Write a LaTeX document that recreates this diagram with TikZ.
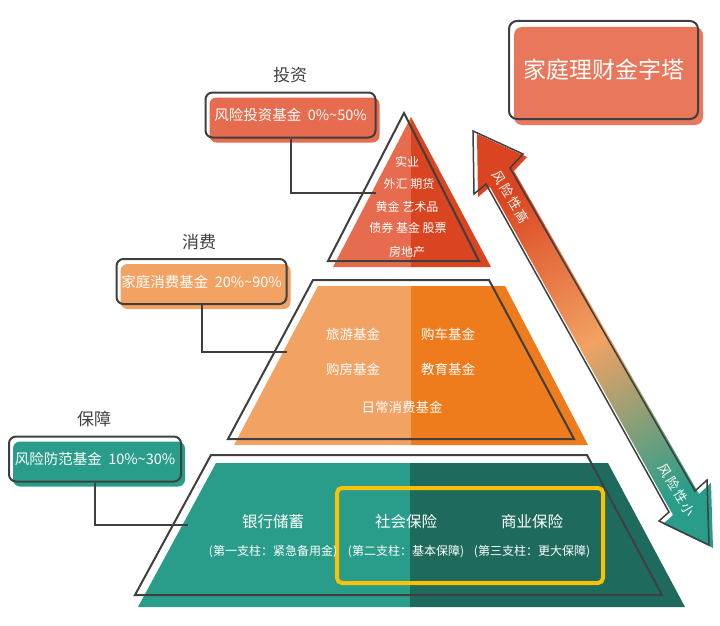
\documentclass[tikz,border=0pt]{standalone}
\usepackage{fontspec}
\setmainfont{Noto Sans CJK SC}
\usetikzlibrary{shadows}
\definecolor{redL}{HTML}{E76C4F}
\definecolor{redD}{HTML}{DA4420}
\definecolor{orL}{HTML}{F2A263}
\definecolor{orD}{HTML}{EE7B1C}
\definecolor{tealL}{HTML}{2A9D8A}
\definecolor{tealD}{HTML}{1E6B5E}
\definecolor{titlec}{HTML}{E8775B}
\definecolor{linec}{HTML}{3F3F3F}
\definecolor{labelc}{HTML}{404040}
\definecolor{goldc}{HTML}{FFC000}
\tikzset{
  edge/.style={draw=linec, line width=2pt},
  fundbox/.style={draw=linec, line width=2pt, rounded corners=7pt, inner sep=0pt,
    minimum width=170pt, minimum height=45pt, text=white,
    font=\fontsize{14.5pt}{17pt}\selectfont,
    drop shadow={shadow xshift=4pt, shadow yshift=-5pt, fill=#1, opacity=1}},
  levellabel/.style={text=labelc, font=\fontsize{17pt}{20pt}\selectfont},
  toptext/.style={text=white, font=\fontsize{12pt}{14pt}\selectfont},
  midtext/.style={text=white, font=\fontsize{13.5pt}{16pt}\selectfont},
  bigtext/.style={text=white, font=\fontsize{15.5pt}{18pt}\selectfont},
  subtext/.style={text=white, font=\fontsize{12pt}{14pt}\selectfont},
  risktext/.style={text=white, rotate=-59,
    font=\fontsize{13pt}{15pt}\selectfont\addfontfeature{LetterSpace=15}}
}
\begin{document}
\begin{tikzpicture}[x=1pt,y=-1pt]
  \useasboundingbox (0,0) rectangle (720,626);

  \fill[redL] (411,117) -- (333,267) -- (411,267) -- cycle;
  \fill[redD] (411,117) -- (491,267) -- (411,267) -- cycle;
  \draw[edge] (404,113) -- (328,261) -- (479,261) -- cycle;

  \fill[orL] (318,286) -- (411,286) -- (411,445) -- (234,445) -- cycle;
  \fill[orD] (411,286) -- (505,286) -- (588,445) -- (411,445) -- cycle;
  \draw[edge] (313,280) -- (489,280) -- (574,439) -- (228,439) -- cycle;

  \fill[tealL] (216,463) -- (410,463) -- (410,607) -- (138,607) -- cycle;
  \fill[tealD] (410,463) -- (608,463) -- (685,607) -- (410,607) -- cycle;
  \draw[edge] (211,455) -- (587,455) -- (662,595) -- (135,595) -- cycle;
  \draw[goldc, line width=4pt, rounded corners=5pt] (337,488) rectangle (603,583);

  \shade[top color=redD, bottom color=tealL, middle color=orL, shading angle=30]
    (477,134) -- (527,157) -- (514,171) -- (699,494) -- (711,483) -- (713,548)
    -- (663,524) -- (673,515) -- (490,187) -- (478,197) -- cycle;
  \draw[draw=linec, line width=1.5pt]
    (473,131) -- (523,154) -- (510,168) -- (695,491) -- (707,480) -- (709,545)
    -- (659,521) -- (669,512) -- (486,184) -- (474,194) -- cycle;
  \node[risktext] (high) at (511,197) {风险性高};
  \node[risktext] (low) at (677,490) {风险性小};

  \node[draw=linec, line width=2pt, rounded corners=8pt, minimum width=189pt,
    minimum height=98pt, text=white, font=\fontsize{23pt}{26pt}\selectfont,
    drop shadow={shadow xshift=5pt, shadow yshift=-6pt, fill=titlec, opacity=1}]
    (title) at (603.5,70) {家庭理财金字塔};

  \node[levellabel] (invlabel) at (290,75) {投资};
  \node[fundbox=redL] (invbox) at (290.5,115) {风险投资基金\ \ 0\%\textasciitilde50\%};
  \node[levellabel] (uselabel) at (199,242) {消费};
  \node[fundbox=orL] (usebox) at (201.5,281.5) {家庭消费基金\ \ 20\%\textasciitilde90\%};
  \node[levellabel] (savlabel) at (94,419) {保障};
  \node[fundbox=tealL, minimum width=172pt] (savbox) at (95,459) {风险防范基金\ \ 10\%\textasciitilde30\%};

  \coordinate (invend) at (376,193);
  \coordinate (useend) at (287,352);
  \coordinate (savend) at (188,525);
  \draw[edge] (invbox.south) |- (invend);
  \draw[edge] (usebox.south) |- (useend);
  \draw[edge] (savbox.south) |- (savend);

  \node[toptext] (inv1) at (407,162) {实业};
  \node[toptext] (inv2) at (409,184) {外汇 期货};
  \node[toptext] (inv3) at (407,207) {黄金 艺术品};
  \node[toptext] (inv4) at (408,228) {债券 基金 股票};
  \node[toptext] (inv5) at (407,252) {房地产};

  \node[midtext] (use1) at (353,334) {旅游基金};
  \node[midtext] (use2) at (448,334) {购车基金};
  \node[midtext] (use3) at (353,369) {购房基金};
  \node[midtext] (use4) at (448,369) {教育基金};
  \node[midtext] (use5) at (402,407) {日常消费基金};

  \node[bigtext] (bank) at (273,522) {银行储蓄};
  \node[subtext] (banksub) at (273,552) {(第一支柱：紧急备用金)};
  \node[bigtext] (social) at (406,522) {社会保险};
  \node[subtext] (socialsub) at (406,552) {(第二支柱：基本保障)};
  \node[bigtext] (comm) at (532,522) {商业保险};
  \node[subtext] (commsub) at (532,552) {(第三支柱：更大保障)};
\end{tikzpicture}
\end{document}
